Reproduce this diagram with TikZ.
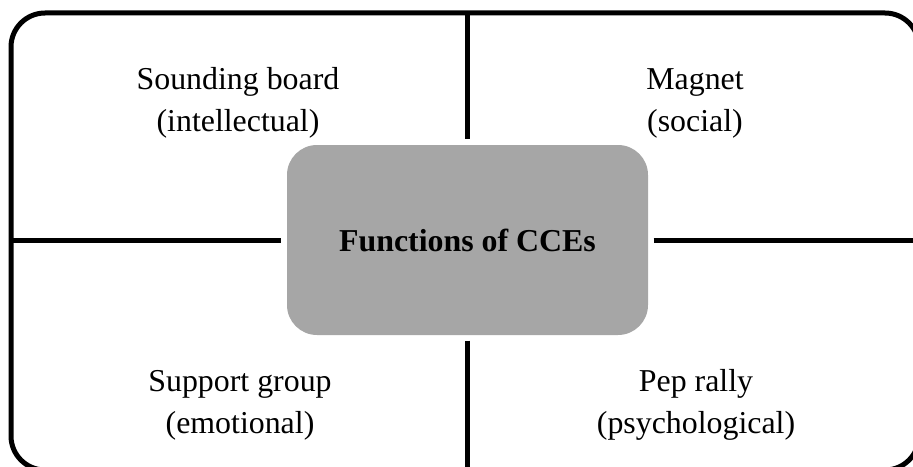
\documentclass[tikz,border=0pt]{standalone}
\usepackage{fontspec}
\setmainfont{Liberation Serif}
\definecolor{hubgray}{RGB}{166,166,166}
\begin{document}
\begin{tikzpicture}[x=0.75pt,y=-0.75pt,
  frame/.style={line width=3.75pt},
  divider/.style={line width=3.75pt},
  hub/.style={rounded corners=22.5pt,fill=hubgray,draw=none,
    minimum width=270.75pt,minimum height=142.5pt,outer sep=4.2pt,
    font=\fontsize{23.9}{31.5}\selectfont\bfseries},
  label/.style={align=center,font=\fontsize{23.9}{31.5}\selectfont}]
  \useasboundingbox (0,0) rectangle (913,467);
  \clip (0,0) rectangle (913,467);
  % outer frame
  \draw[frame,rounded corners=25.5pt] (11,13) rectangle (919,470);
  % central hub
  \node[hub] (hub) at (467.5,240) {Functions of CCEs};
  % frame anchor points for the dividers
  \coordinate (ntop) at (hub.north |- 0,13);
  \coordinate (nbot) at (hub.south |- 0,470);
  \coordinate (nleft) at (11,240);
  \coordinate (nright) at (919,240);
  \draw[divider] (ntop) -- (hub.north);
  \draw[divider] (hub.south) -- (nbot);
  \draw[divider] (nleft) -- (hub.west);
  \draw[divider] (hub.east) -- (nright);
  % quadrant labels
  \node[label] (intel) at (238,103) {Sounding board\\(intellectual)};
  \node[label] (social) at (695,103) {Magnet\\(social)};
  \node[label] (emot) at (240,405) {Support group\\(emotional)};
  \node[label] (psych) at (696,405) {Pep rally\\(psychological)};
\end{tikzpicture}
\end{document}
